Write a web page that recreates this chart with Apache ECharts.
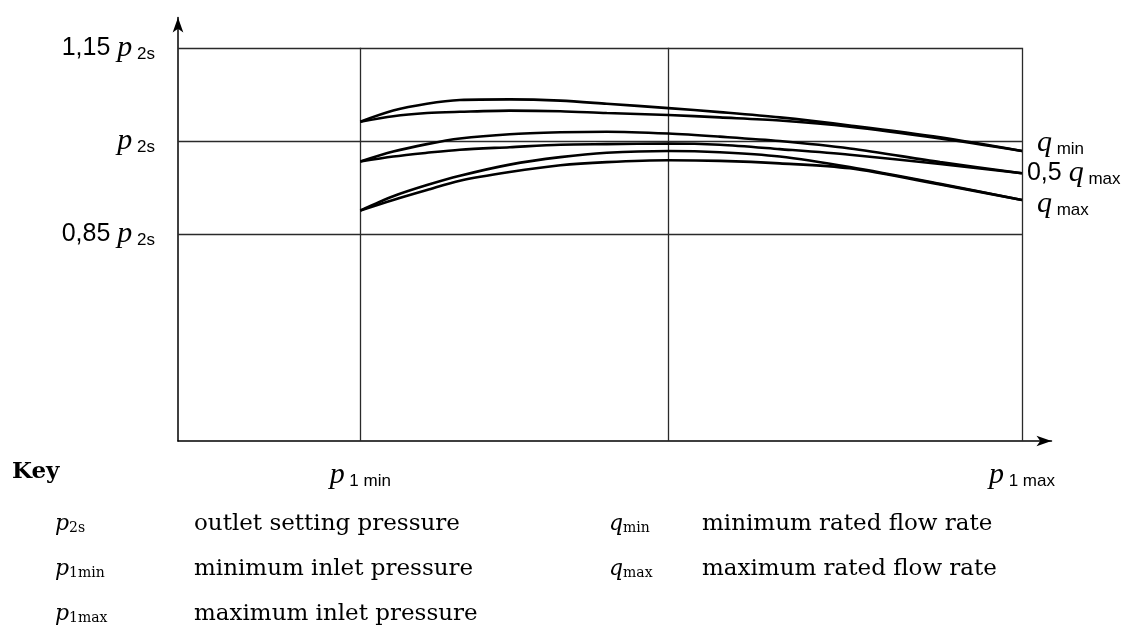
<!DOCTYPE html>
<html>
<head>
<meta charset="utf-8">
<script src="https://cdn.jsdelivr.net/npm/echarts@6/dist/echarts.min.js"></script>
<style>
html,body{margin:0;padding:0;background:#fff;}
#chart{width:1133px;height:633px;}
</style>
</head>
<body>
<div id="chart"></div>
<script>
// ---- data ----
const xTicks = [21.6, 58.1, 100];                 // p1min, (mid gridline), p1max
const xTickSubs = ['1 min', '', '1 max'];
const yTicks = [0.85, 1.0, 1.15];                 // multiples of p2s
const yTickPrefix = ['0,85', '', '1,15'];
const xPoints = [21.6, 25.5, 29.5, 33.4, 39.3, 45.3, 50.8, 58.1, 64.2, 71.3, 79.6, 90.3, 100];
const qMinUpper  = [1.031, 1.049, 1.060, 1.066, 1.067, 1.065, 1.060, 1.053, 1.0465, 1.038, 1.025, 1.006, 0.984];
const qMinLower  = [1.031, 1.040, 1.045, 1.047, 1.049, 1.048, 1.045, 1.042, 1.038, 1.033, 1.023, 1.004, 0.984];
const halfUpper  = [0.967, 0.983, 0.995, 1.004, 1.011, 1.014, 1.015, 1.012, 1.007, 1.000, 0.988, 0.966, 0.948];
const halfLower  = [0.967, 0.975, 0.981, 0.986, 0.990, 0.994, 0.995, 0.996, 0.994, 0.987, 0.978, 0.963, 0.948];
const qMaxUpper  = [0.888, 0.911, 0.929, 0.944, 0.962, 0.974, 0.981, 0.984, 0.982, 0.975, 0.958, 0.931, 0.905];
const qMaxLower  = [0.888, 0.905, 0.921, 0.936, 0.950, 0.961, 0.966, 0.969, 0.968, 0.964, 0.956, 0.930, 0.905];
const endLabels = [null, ['', 'min'], null, ['0,5', 'max'], null, ['', 'max']];
const keyLeft = [['p', '2s', 'outlet setting pressure'], ['p', '1min', 'minimum inlet pressure'], ['p', '1max', 'maximum inlet pressure']];
const keyRight = [['q', 'min', 'minimum rated flow rate'], ['q', 'max', 'maximum rated flow rate']];

const Y_MIN = 0.5169, Y_MAX = 1.1989, X_MIN = 0, X_MAX = 103.5;

const SANS = 'Liberation Sans';
const SERIF = 'Liberation Serif';
const KEYFONT = 'DejaVu Serif';
const rich = {
  n: {fontFamily: SANS, fontSize: 25, color: '#000'},
  p: {fontFamily: SERIF, fontStyle: 'italic', fontSize: 30, color: '#000'},
  s: {fontFamily: SANS, fontSize: 17, color: '#000', verticalAlign: 'bottom', lineHeight: 12}
};

const curves = [qMinUpper, qMinLower, halfUpper, halfLower, qMaxUpper, qMaxLower];
const endOffsets = [null, [15, -8], null, [5, 0], null, [15, 4]];

// grid rectangle lines
const gridSegs = [];
yTicks.forEach(v => gridSegs.push([{coord: [X_MIN, v]}, {coord: [xTicks[xTicks.length - 1], v]}]));
xTicks.forEach(v => gridSegs.push([{coord: [v, Y_MIN]}, {coord: [v, yTicks[yTicks.length - 1]]}]));

const series = curves.map((arr, i) => {
  const s = {
    type: 'line',
    data: xPoints.map((x, j) => [x, arr[j]]),
    smooth: 0.3,
    symbol: 'none',
    silent: true,
    lineStyle: {color: '#000', width: 2.6},
    z: 3
  };
  if (endLabels[i]) {
    const [pre, sub] = endLabels[i];
    s.endLabel = {
      show: true,
      distance: 0,
      offset: endOffsets[i],
      formatter: () => (pre ? '{n|' + pre + ' }' : '') + '{p|q}{s| ' + sub + '}',
      rich: rich
    };
  }
  if (i === 0) {
    s.markLine = {
      silent: true, symbol: 'none', animation: false,
      label: {show: false},
      lineStyle: {color: '#2a2a2a', width: 1.3, type: 'solid'},
      data: gridSegs,
      z: 1
    };
  }
  return s;
});

function nearIdx(arr, v) { return arr.findIndex(t => Math.abs(t - v) < 1e-6); }

const chart = echarts.init(document.getElementById('chart'));
const keyGraphics = [];
keyGraphics.push({type: 'text', left: 12, top: 461, style: {text: 'Key', fontFamily: KEYFONT, fontWeight: 'bold', fontSize: 23, fill: '#000'}});
const rowY = [513, 558, 603];
const keyRich = {
  p: {fontFamily: KEYFONT, fontStyle: 'italic', fontSize: 22, fill: '#000', color: '#000'},
  s: {fontFamily: KEYFONT, fontSize: 14, fill: '#000', color: '#000', verticalAlign: 'bottom', lineHeight: 14}
};
keyLeft.forEach((k, i) => {
  keyGraphics.push({type: 'text', left: 55, top: rowY[i], style: {text: '{p|' + k[0] + '}{s|' + k[1] + '}', rich: keyRich}});
  keyGraphics.push({type: 'text', left: 194, top: rowY[i], style: {text: k[2], fontFamily: KEYFONT, fontSize: 23, fill: '#000'}});
});
keyRight.forEach((k, i) => {
  keyGraphics.push({type: 'text', left: 609, top: rowY[i], style: {text: '{p|' + k[0] + '}{s|' + k[1] + '}', rich: keyRich}});
  keyGraphics.push({type: 'text', left: 702, top: rowY[i], style: {text: k[2], fontFamily: KEYFONT, fontSize: 23, fill: '#000'}});
});

chart.setOption({
  animation: false,
  backgroundColor: '#fff',
  grid: {left: 178, right: 81.5, top: 17.5, bottom: 192, containLabel: false},
  xAxis: {
    type: 'value', min: X_MIN, max: X_MAX,
    axisLine: {show: true, symbol: ['none', 'arrow'], symbolSize: [8, 15], lineStyle: {color: '#000', width: 1.5}},
    axisTick: {show: false},
    splitLine: {show: false},
    axisLabel: {
      show: true, customValues: xTicks, margin: 19,
      formatter: v => { const i = nearIdx(xTicks, v); return (i >= 0 && xTickSubs[i]) ? '{p|p}{s| ' + xTickSubs[i] + '}' : ''; },
      rich: rich
    }
  },
  yAxis: {
    type: 'value', min: Y_MIN, max: Y_MAX,
    axisLine: {show: true, symbol: ['none', 'arrow'], symbolSize: [8, 15], lineStyle: {color: '#000', width: 1.5}},
    axisTick: {show: false},
    splitLine: {show: false},
    axisLabel: {
      show: true, customValues: yTicks, margin: 23,
      formatter: v => { const i = nearIdx(yTicks, v); if (i < 0) return ''; return (yTickPrefix[i] ? '{n|' + yTickPrefix[i] + ' }' : '') + '{p|p}{s| 2s}'; },
      rich: rich
    }
  },
  graphic: keyGraphics,
  series: series
});
</script>
</body>
</html>
